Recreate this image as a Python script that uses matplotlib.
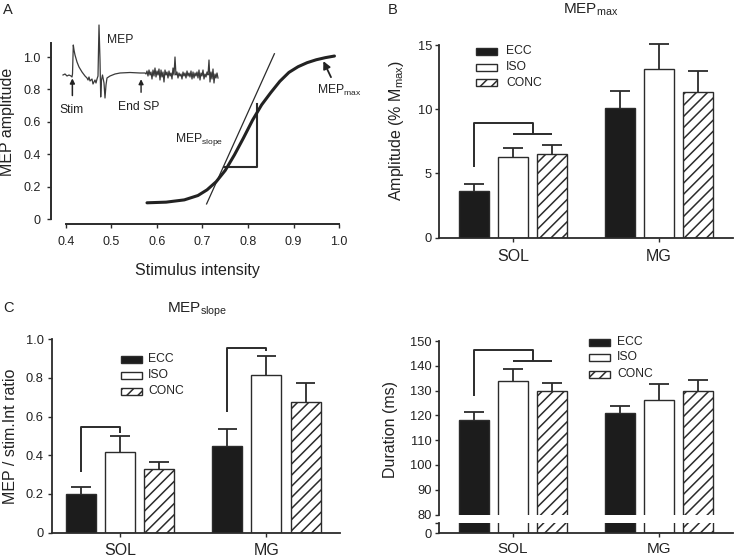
import matplotlib
matplotlib.use('Agg')
import matplotlib.pyplot as plt
from matplotlib.patches import Rectangle
import numpy as np

plt.rcParams['font.family'] = ['Liberation Sans', 'DejaVu Sans']
plt.rcParams['mathtext.default'] = 'regular'
plt.rcParams['hatch.linewidth'] = 1.1
plt.rcParams['hatch.color'] = '#333333'

W, H = 735, 558
fig = plt.figure(figsize=(W / 100, H / 100), dpi=100)
INK = '#2b2b2b'


def rect(l, t, r, b):
    return [l / W, 1 - b / H, (r - l) / W, (b - t) / H]


def fx(x):
    return x / W


def fy(y):
    return 1 - y / H


# ---------------- data ----------------
groups = ['SOL', 'MG']
conditions = ['ECC', 'ISO', 'CONC']

# Panel A: recruitment curve
curve_x = [0.578, 0.62, 0.66, 0.69, 0.71, 0.73, 0.75, 0.77, 0.79, 0.81,
           0.83, 0.85, 0.87, 0.89, 0.91, 0.93, 0.95, 0.97, 0.99]
curve_y = [0.100, 0.104, 0.118, 0.145, 0.18, 0.23, 0.30, 0.395, 0.50, 0.61,
           0.705, 0.78, 0.85, 0.905, 0.94, 0.965, 0.983, 0.996, 1.006]
tangent_x = [0.709, 0.858]
tangent_y = [0.093, 1.02]
triangle_x = [0.748, 0.819, 0.819]
triangle_y = [0.318, 0.318, 0.709]
a_xticks = [0.4, 0.5, 0.6, 0.7, 0.8, 0.9, 1.0]
a_xticklabels = ['0.4', '0.5', '0.6', '0.7', '0.8', '0.9', '1.0']
a_yticks = [0, 0.2, 0.4, 0.6, 0.8, 1.0]
a_yticklabels = ['0', '0.2', '0.4', '0.6', '0.8', '1.0']

# EMG trace (time in ms, amplitude in arbitrary units)
trace_t = [0, 4, 8, 12, 16, 18, 19, 20.6, 22, 24, 28, 32, 38, 44, 48, 50, 52, 54,
           58, 60, 64, 66, 68, 70, 72, 74, 75.4, 77, 79, 82, 84, 86, 88, 94, 104,
           114, 134, 154, 164,
           166, 168, 170, 172, 174, 176, 178, 180, 182, 184, 186, 188, 190, 192,
           194, 196, 198, 200, 202, 204, 206, 208, 210, 212, 214, 216, 218, 220,
           222, 224, 226, 228, 230, 232, 234, 236, 238, 240, 242, 244, 246, 248,
           250, 252, 254, 256, 258, 260, 262, 264, 266, 268, 270, 272, 274, 276,
           278, 280, 282, 284, 286, 288, 290, 292, 294, 296, 298, 300, 302, 304,
           306, 308, 310]
trace_v = [0, 0.1, -0.1, 0, -0.1, -0.2, 0.1, 3.0, 2.5, 2.0, 1.3, 0.8, 0.3, -0.1,
           -0.3, -0.5, -0.2, -0.6, -0.4, -0.9, -0.5, -0.8, -0.4, -0.1, 5.0, 1.5,
           -2.2, -0.5, 0, -0.8, -2.3, -1.0, -0.3, -0.1, 0.1, 0.2, 0.25, 0.2, 0.2,
           0.1, 0.4, -0.1, 0.5, 0.0, 0.3, -0.4, 0.5, -0.1, 0.7, -0.2, 0.4, 0.0, 0.6,
           -0.5, 0.5, -0.2, 0.3, -0.7, 0.5, 0.0, 0.3, -0.3, 0.4, -0.1, 0.2, -0.4,
           0.7, 0.0, 1.8, 0.0, 0.3, -0.3, 0.2, -0.1, 0.1, -0.4, 0.3, -0.1, 0.2,
           -0.3, 0.4, -0.1, 0.2, -0.2, 0.4, -0.4, 0.3, -0.3, 0.2, -0.1, 0.3, -0.3,
           0.5, -0.5, 0.2, -0.1, 0.5, -0.4, 0.1, -0.2, 0.3, 0.0, 1.5, -0.7, 0.3,
           -0.4, 0.6, -0.8, 0.1, -0.3, 0.2, -0.3]

# Panel B: MEPmax (% Mmax)
mepmax_ecc = [3.63, 10.12]
mepmax_ecc_err = [0.52, 1.32]
mepmax_iso = [6.25, 13.10]
mepmax_iso_err = [0.70, 1.98]
mepmax_conc = [6.51, 11.31]
mepmax_conc_err = [0.70, 1.69]
b_yticks = [0, 5, 10, 15]

# Panel C: MEPslope
slope_ecc = [0.199, 0.449]
slope_ecc_err = [0.038, 0.086]
slope_iso = [0.418, 0.815]
slope_iso_err = [0.081, 0.099]
slope_conc = [0.328, 0.674]
slope_conc_err = [0.038, 0.101]
c_yticks = [0, 0.2, 0.4, 0.6, 0.8, 1.0]
c_yticklabels = ['0', '0.2', '0.4', '0.6', '0.8', '1.0']

# Panel D: silent period duration (ms)
dur_ecc = [118.2, 120.9]
dur_ecc_err = [3.1, 3.0]
dur_iso = [134.0, 126.0]
dur_iso_err = [4.6, 6.6]
dur_conc = [130.0, 130.0]
dur_conc_err = [3.2, 4.2]
d_yticks = [80, 90, 100, 110, 120, 130, 140, 150]

# ---------------- style ----------------
offsets = [-0.267, 0.0, 0.267]
bar_w = 0.205
cap_half = 0.066
faces = ['#1c1c1c', 'white', 'white']
hatches = [None, None, '///']
group_x = np.arange(len(groups))


def style_axes(ax, ypad=2):
    for s in ['top', 'right']:
        ax.spines[s].set_visible(False)
    for s in ['left', 'bottom']:
        ax.spines[s].set_linewidth(1.3)
        ax.spines[s].set_color(INK)
    ax.tick_params(axis='both', direction='out', length=3, width=1.0, color=INK)
    ax.tick_params(axis='y', labelsize=9.3, pad=ypad, labelcolor='#222')
    ax.tick_params(axis='x', labelsize=11.5, pad=5, labelcolor='#222')


def draw_bars(ax, means, errs, with_err=True):
    for i in range(3):
        xs = group_x + offsets[i]
        ax.bar(xs, means[i], bar_w, color=faces[i], edgecolor=INK,
               hatch=hatches[i], linewidth=1.0, zorder=2)
        if with_err:
            tops = np.array(means[i]) + np.array(errs[i])
            ax.vlines(xs, means[i], tops, color=INK, lw=1.3, zorder=1, clip_on=False)
            ax.hlines(tops, xs - cap_half, xs + cap_half, color=INK, lw=1.3,
                      zorder=1, clip_on=False)


def line(ax, xs, ys, lw=1.4):
    ax.plot(xs, ys, color=INK, lw=lw, solid_capstyle='butt', clip_on=False, zorder=3)


def legend_box(px0, text_x, rows_y):
    for i, (cond, yc) in enumerate(zip(conditions, rows_y)):
        r = Rectangle((fx(px0), fy(yc + 3.5)), 21 / W, 7 / H, transform=fig.transFigure,
                      facecolor=faces[i], edgecolor=INK, hatch=hatches[i], lw=1.0)
        fig.add_artist(r)
        fig.text(fx(text_x), fy(yc), cond, ha='left', va='center', fontsize=8.7, color='#222')


# ---------------- Panel A ----------------
axA = fig.add_axes(rect(66, 24.6, 339, 219))
axA.set_xlim(0.4, 1.0)
axA.set_ylim(0, 1.2)
for s in ['top', 'right']:
    axA.spines[s].set_visible(False)
axA.spines['left'].set_position(('outward', 10.8))
axA.spines['bottom'].set_position(('outward', 3.6))
axA.spines['left'].set_bounds(0, 1.085)
axA.spines['bottom'].set_bounds(0.4, 1.0)
for s in ['left', 'bottom']:
    axA.spines[s].set_linewidth(1.4)
    axA.spines[s].set_color(INK)
axA.set_xticks(a_xticks)
axA.set_xticklabels(a_xticklabels)
axA.set_yticks(a_yticks)
axA.set_yticklabels(a_yticklabels)
axA.tick_params(direction='out', length=3, width=1.0, color=INK, labelsize=9, labelcolor='#222')
axA.tick_params(axis='y', pad=4.5)
axA.tick_params(axis='x', pad=5.5)
axA.plot(curve_x, curve_y, color='#222', lw=2.2, solid_capstyle='round', zorder=3)
axA.plot(tangent_x, tangent_y, color=INK, lw=0.9, zorder=2)
axA.plot(triangle_x, triangle_y, color=INK, lw=1.5, zorder=2)
axA.text(0.640, 0.478, 'MEP$_{slope}$', fontsize=8.7, color='#222')
axA.text(0.951, 0.773, 'MEP$_{max}$', fontsize=8.7, color='#222')
axA.annotate('', xy=(0.963, 0.99), xytext=(0.985, 0.86),
             arrowprops=dict(arrowstyle='-|>', color='#222', lw=1.3, mutation_scale=11))
axA.text(0.491, 1.087, 'MEP', fontsize=8.7, color='#222')
axA.text(0.386, 0.655, 'Stim', fontsize=8.7, color='#222')
axA.text(0.515, 0.672, 'End SP', fontsize=8.7, color='#222')
axA.annotate('', xy=(0.414, 0.885), xytext=(0.414, 0.745),
             arrowprops=dict(arrowstyle='-|>', color='#222', lw=1.1, mutation_scale=7))
axA.annotate('', xy=(0.565, 0.88), xytext=(0.565, 0.765),
             arrowprops=dict(arrowstyle='-|>', color='#222', lw=1.0, mutation_scale=7))
fig.text(fx(197), fy(270), 'Stimulus intensity', ha='center', va='center', fontsize=11.5, color='#222')
fig.text(fx(8), fy(122), 'MEP amplitude', ha='center', va='center', rotation=90, fontsize=11.5, color='#222')
fig.text(fx(3), fy(10), 'A', ha='left', va='center', fontsize=10.5, color='#222')

axT = fig.add_axes(rect(63, 25, 218, 100))
axT.set_xlim(0, 310)
axT.set_ylim(-2.5, 5.0)
axT.axis('off')
axT.plot(trace_t, trace_v, color='#3a3a3a', lw=0.9, clip_on=False)

# ---------------- Panel B ----------------
axB = fig.add_axes(rect(439, 45, 733, 237.7))
axB.set_xlim(-0.507, 1.507)
axB.set_ylim(0, 15)
style_axes(axB, ypad=2)
draw_bars(axB, [mepmax_ecc, mepmax_iso, mepmax_conc],
          [mepmax_ecc_err, mepmax_iso_err, mepmax_conc_err])
axB.set_yticks(b_yticks)
axB.set_xticks(group_x)
axB.set_xticklabels(groups)
line(axB, [offsets[0], offsets[0], 0.137, 0.137], [5.5, 8.95, 8.95, 8.07])
line(axB, [offsets[1], offsets[2]], [8.07, 8.07])
legend_box(476, 506, [51.5, 67, 83])
fig.text(fx(591), fy(10), 'MEP$_{max}$', ha='center', va='center', fontsize=11, color='#222')
fig.text(fx(396), fy(130), 'Amplitude (% M$_{max}$)', ha='center', va='center', rotation=90,
         fontsize=11.5, color='#222')
fig.text(fx(388), fy(10), 'B', ha='left', va='center', fontsize=10.5, color='#222')

# ---------------- Panel C ----------------
axC = fig.add_axes(rect(52, 339.3, 340, 532.5))
axC.set_xlim(-0.464, 1.502)
axC.set_ylim(0, 1.0)
style_axes(axC, ypad=3)
draw_bars(axC, [slope_ecc, slope_iso, slope_conc],
          [slope_ecc_err, slope_iso_err, slope_conc_err])
axC.set_yticks(c_yticks)
axC.set_yticklabels(c_yticklabels)
axC.set_xticks(group_x)
axC.set_xticklabels(groups)
axC.tick_params(axis='x', pad=4.5)
line(axC, [offsets[0], offsets[0], 0.0, 0.0], [0.314, 0.547, 0.547, 0.516])
line(axC, [1 + offsets[0], 1 + offsets[0], 1.0, 1.0], [0.625, 0.953, 0.953, 0.941])
legend_box(121, 148, [359, 375, 391])
fig.text(fx(197), fy(310), 'MEP$_{slope}$', ha='center', va='center', fontsize=11, color='#222')
fig.text(fx(11), fy(436), 'MEP / stim.Int ratio', ha='center', va='center', rotation=90,
         fontsize=11.5, color='#222')
fig.text(fx(3), fy(308), 'C', ha='left', va='center', fontsize=10.5, color='#222')

# ---------------- Panel D ----------------
axD = fig.add_axes(rect(439, 341, 733, 514.5))
axD.set_xlim(-0.507, 1.507)
axD.set_ylim(80, 150)
style_axes(axD, ypad=2)
axD.spines['bottom'].set_visible(False)
axD.tick_params(axis='x', bottom=False, labelbottom=False)
draw_bars(axD, [dur_ecc, dur_iso, dur_conc],
          [dur_ecc_err, dur_iso_err, dur_conc_err])
axD.set_yticks(d_yticks)
line(axD, [offsets[0], offsets[0], 0.137, 0.137], [127.9, 146.4, 146.4, 142.0])
line(axD, [offsets[1], offsets[2]], [142.0, 142.0])
legend_box(589, 617, [342, 357, 374])
fig.text(fx(391), fy(430), 'Duration (ms)', ha='center', va='center', rotation=90,
         fontsize=11.5, color='#222')

axD2 = fig.add_axes(rect(439, 523, 733, 533))
axD2.set_xlim(-0.507, 1.507)
axD2.set_ylim(0, 4)
style_axes(axD2, ypad=2)
draw_bars(axD2, [dur_ecc, dur_iso, dur_conc], None, with_err=False)
axD2.set_yticks([0, 4])
axD2.set_yticklabels(['0', ''])
axD2.set_xticks(group_x)
axD2.set_xticklabels(groups, fontsize=11)
axD2.tick_params(axis='x', pad=3.5)

fig.savefig('out.png', dpi=100)
